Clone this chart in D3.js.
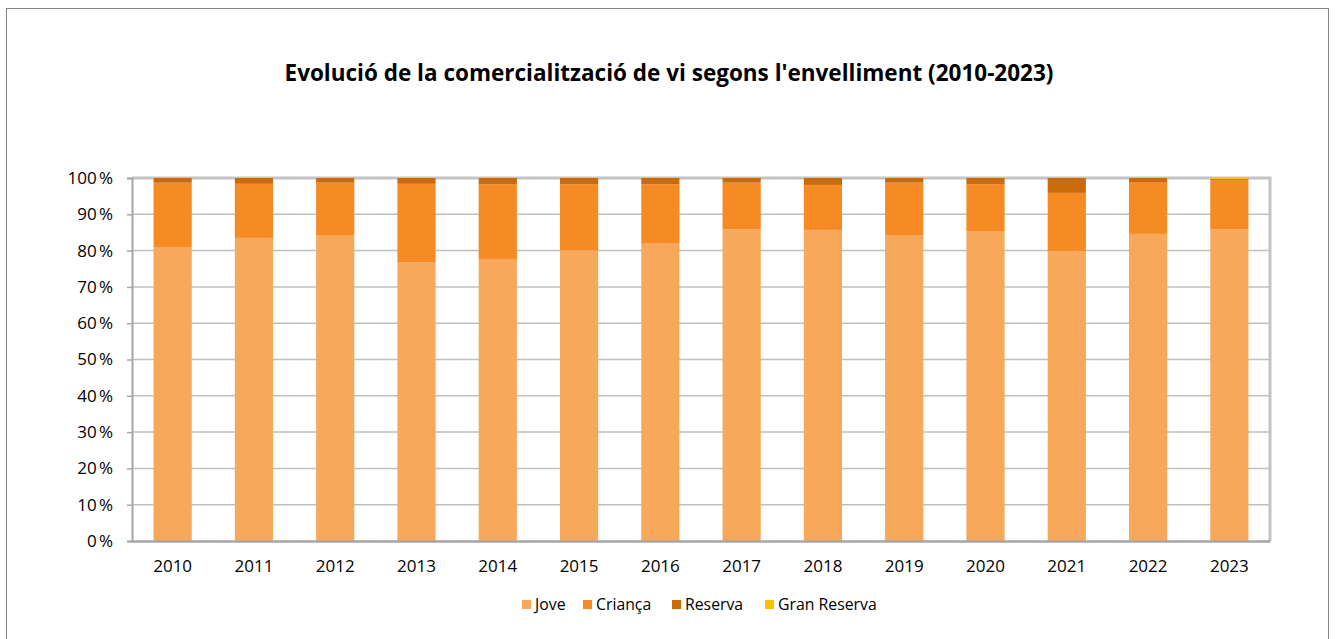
<!DOCTYPE html>
<html>
<head>
<meta charset="utf-8">
<script src="https://cdn.jsdelivr.net/npm/d3@7"></script>
<style>
  body { margin: 0; background: #fff; }
  text { font-family: "Open Sans", "Noto Sans", sans-serif; }
</style>
</head>
<body>
<div id="chart"></div>
<script>
// data (percent of total)
var years = ["2010","2011","2012","2013","2014","2015","2016","2017","2018","2019","2020","2021","2022","2023"];
var jove =        [81.0, 83.5, 84.3, 76.7, 77.7, 80.1, 82.1, 85.9, 85.7, 84.3, 85.4, 79.8, 84.6, 85.9];
var crianca =     [17.7, 14.9, 14.4, 21.7, 20.6, 18.2, 16.2, 12.8, 12.4, 14.4, 12.9, 16.1, 14.3, 13.4];
var reserva =     [1.3, 1.6, 1.3, 1.6, 1.7, 1.7, 1.7, 1.3, 1.9, 1.3, 1.7, 4.1, 1.1, 0.4];
var granReserva = [0, 0, 0, 0, 0, 0, 0, 0, 0, 0, 0, 0, 0, 0.3];
var seriesNames = ["Jove", "Criança", "Reserva", "Gran Reserva"];
var seriesColors = ["#f8a85a", "#f68b24", "#cb6a08", "#ffc000"];
var yTicks = [0, 10, 20, 30, 40, 50, 60, 70, 80, 90, 100];

var width = 1335, height = 639;
var margin = {top: 178, left: 132, right: 65, bottom: 98};

var svg = d3.select("#chart").append("svg")
  .attr("width", width)
  .attr("height", height);

// outer frame
svg.append("rect")
  .attr("x", 6.5).attr("y", 8.5)
  .attr("width", 1322).attr("height", 640)
  .attr("fill", "none")
  .attr("stroke", "#888").attr("stroke-width", 1);

svg.append("text")
  .attr("x", 669).attr("y", 81)
  .attr("text-anchor", "middle")
  .attr("font-size", 22.5).attr("font-weight", "bold")
  .attr("fill", "#000")
  .text("Evolució de la comercialització de vi segons l'envelliment (2010-2023)");

//build stack rows
var rows = years.map(function(y, i) {
  return {year: y, "Jove": jove[i], "Criança": crianca[i], "Reserva": reserva[i], "Gran Reserva": granReserva[i]};
});
var stacked = d3.stack().keys(seriesNames)(rows);

var x = d3.scaleBand()
  .domain(years)
  .range([margin.left, width - margin.right])
  .paddingInner(0.53).paddingOuter(0.265);
var y = d3.scaleLinear()
  .domain([0, 100])
  .range([height - margin.bottom, margin.top]);
var color = d3.scaleOrdinal().domain(seriesNames).range(seriesColors);

// grid
svg.append("g").selectAll("line")
  .data(yTicks.slice(1, -1))
  .enter().append("line")
  .attr("x1", margin.left).attr("x2", width - margin.right)
  .attr("y1", function(d){ return y(d); }).attr("y2", function(d){ return y(d); })
  .attr("stroke", "#bfbfbf").attr("stroke-width", 1.5);

// plot area frame (top and right)
svg.append("path")
  .attr("d", "M" + margin.left + "," + y(100) + "H" + (width - margin.right) + "V" + y(0))
  .attr("fill", "none").attr("stroke", "#c4c4c4").attr("stroke-width", 3);

// bars
svg.append("g").selectAll("g")
  .data(stacked)
  .enter().append("g")
  .attr("fill", function(d){ return color(d.key); })
  .selectAll("rect")
  .data(function(d){ return d; })
  .enter().append("rect")
  .attr("x", function(d){ return x(d.data.year); })
  .attr("width", x.bandwidth())
  .attr("y", function(d){ return y(d[1]); })
  .attr("height", function(d){ return y(d[0]) - y(d[1]); });

// y axis
var yAxis = d3.axisLeft(y)
  .tickValues(yTicks)
  .tickSize(5)
  .tickPadding(14)
  .tickFormat(function(d){ return d + "\u202f%"; });
var gy = svg.append("g")
  .attr("transform", "translate(" + margin.left + ",0)")
  .call(yAxis);
gy.select(".domain").attr("stroke", "#a6a6a6").attr("stroke-width", 2);
gy.selectAll(".tick line").attr("stroke", "#a6a6a6").attr("stroke-width", 1.5);
gy.selectAll("text").attr("font-size", 17).attr("fill", "#000");

// x axis
var xAxis = d3.axisBottom(x).tickSize(0).tickPadding(19);
var gx = svg.append("g")
  .attr("transform", "translate(0," + y(0) + ")")
  .call(xAxis);
gx.select(".domain").attr("stroke", "#a6a6a6").attr("stroke-width", 2.5);
gx.selectAll("text").attr("font-size", 17).attr("fill", "#000");

// legend
var legendX = [522, 583, 672, 765];
var legend = svg.append("g").selectAll("g")
  .data(seriesNames)
  .enter().append("g")
  .attr("transform", function(d, i){ return "translate(" + legendX[i] + ",600)"; });
legend.append("rect")
  .attr("width", 9).attr("height", 9)
  .attr("fill", function(d){ return color(d); });
legend.append("text")
  .attr("x", 13).attr("y", 10)
  .attr("font-size", 15.8).attr("fill", "#000")
  .text(function(d){ return d; });
</script>
</body>
</html>
